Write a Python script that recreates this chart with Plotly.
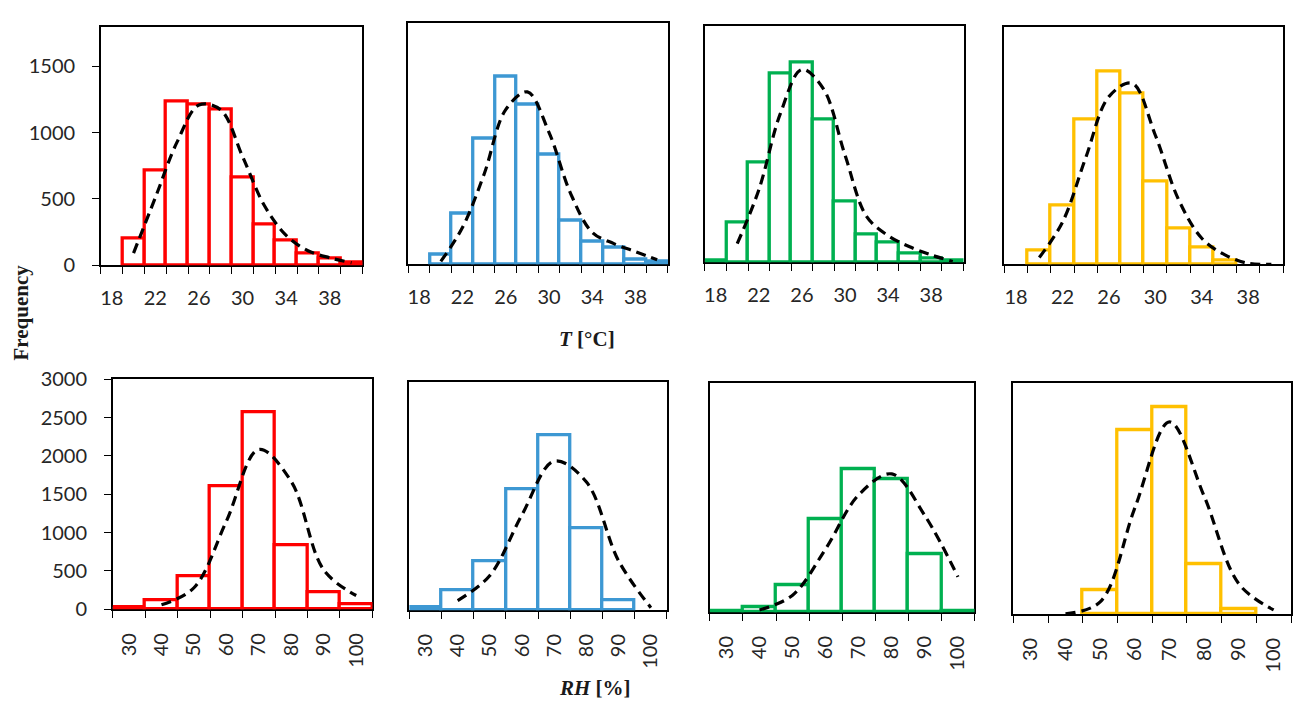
import plotly.graph_objects as go

W, H = 1293, 715

# ---------------- data ----------------
T_BINS = [18, 20, 22, 24, 26, 28, 30, 32, 34, 36, 38, 40]
T_TICK_LABELS = ["18", "22", "26", "30", "34", "38"]
RH_BINS = [30, 40, 50, 60, 70, 80, 90, 100]
RH_TICK_LABELS = ["30", "40", "50", "60", "70", "80", "90", "100"]

T_freq_red = [None, 200, 711, 1233, 1213, 1177, 663, 306, 184, 92, 51, 24]
T_fit_red = [None, 92, 510, 930, 1208, 1171, 820, 450, 225, 109, 56, 19]

T_freq_blue = [None, 70, 377, 935, 1400, 1190, 815, 322, 171, 123, 34, 22]
T_fit_blue = [None, 22, 274, 671, 1152, 1284, 983, 527, 238, 154, 94, 34]

T_freq_green = [15, 306, 762, 1436, 1515, 1086, 461, 208, 150, 69, 32, 15]
T_fit_green = [None, 142, 550, 1130, 1466, 1319, 816, 350, 203, 118, 56, 7]

T_freq_yellow = [None, 107, 448, 1098, 1459, 1293, 623, 270, 124, 27, None, None]
T_fit_yellow = [None, 51, 319, 806, 1269, 1371, 977, 490, 197, 71, 7, 0]

RH_freq_red = [30, 113, 428, 1602, 2567, 839, 218, 71]
RH_fit_red = [None, 59, 281, 1150, 2085, 1665, 512, 180]

RH_freq_blue = [35, 258, 640, 1593, 2301, 1081, 131, None]
RH_fit_blue = [None, 127, 458, 1258, 1962, 1686, 648, 34]

RH_freq_green = [10, 63, 358, 1222, 1875, 1748, 758, 10]
RH_fit_green = [None, 29, 223, 830, 1537, 1811, 1264, 463]

RH_freq_yellow = [None, None, 307, 2391, 2694, 652, 63, None]
RH_fit_yellow = [None, 5, 160, 1380, 2497, 1528, 391, 55]

COLORS = ["#FF0000", "#3D98D3", "#00B050", "#FFC000"]

# ---------------- layout geometry (pixels: x0, x1, ytop, ybottom) ----------------
PANELS = [
    (100, 362, 14, 261),
    (408, 668, 10, 260),
    (705, 964, 13, 258),
    (1005, 1284, 14, 260),
    (112, 372, 379, 617),
    (409, 667, 382, 618),
    (710, 975, 383, 620),
    (1014, 1292, 383, 622),
]

series = [
    (T_freq_red, T_fit_red), (T_freq_blue, T_fit_blue),
    (T_freq_green, T_fit_green), (T_freq_yellow, T_fit_yellow),
    (RH_freq_red, RH_fit_red), (RH_freq_blue, RH_fit_blue),
    (RH_freq_green, RH_fit_green), (RH_freq_yellow, RH_fit_yellow),
]

TICK_FONT = dict(family="Lato, Open Sans, sans-serif", size=20, color="#262626")
TITLE_FONT = dict(family="Liberation Serif, serif", size=21, color="#1a1a1a")

fig = go.Figure()
layout = dict(
    width=W, height=H,
    margin=dict(l=0, r=0, t=0, b=0),
    paper_bgcolor="white", plot_bgcolor="white",
    showlegend=False,
    bargap=0,
)

for i, ((freq, fit), (x0, x1, yt, yb)) in enumerate(zip(series, PANELS)):
    k = "" if i == 0 else str(i + 1)
    top_row = i < 4
    bins = T_BINS if top_row else RH_BINS
    n = len(bins)
    xs = list(range(n))
    color = COLORS[i % 4]

    fig.add_trace(go.Bar(
        x=xs, y=freq, width=1,
        marker=dict(color="white", line=dict(color=color, width=3.3)),
        xaxis="x" + k, yaxis="y" + k, hoverinfo="x+y",
    ))
    fig.add_trace(go.Scatter(
        x=xs, y=fit, mode="lines",
        line=dict(color="black", width=3.2, dash="10px,6px", shape="spline", smoothing=1),
        xaxis="x" + k, yaxis="y" + k,
    ))

    if top_row:
        tickvals = [j for j in range(n) if str(bins[j]) in T_TICK_LABELS]
        ticktext = [str(bins[j]) for j in tickvals]
        tickangle = 0
        ymax = 1800
        yticks = [0, 500, 1000, 1500]
    else:
        tickvals = xs
        ticktext = RH_TICK_LABELS
        tickangle = -90
        ymax = 3000
        yticks = [0, 500, 1000, 1500, 2000, 2500, 3000]

    layout["xaxis" + k] = dict(
        domain=[x0 / W, x1 / W],
        anchor="y" + k,
        range=[-0.5, n - 0.5],
        showline=True, mirror=True, linecolor="black", linewidth=1.5,
        showgrid=False, zeroline=False,
        tickmode="array", tickvals=tickvals, ticktext=ticktext,
        ticks="outside", ticklen=7, tickcolor="rgba(0,0,0,0)",
        ticklabelstandoff=7 if top_row else 7,
        tickangle=tickangle,
        tickfont=TICK_FONT,
        minor=dict(tickmode="array", tickvals=[j - 0.5 for j in range(n + 1)],
                   ticks="outside", ticklen=7, tickcolor="black", tickwidth=1),
        layer="below traces",
        fixedrange=True,
    )
    show_y = i in (0, 4)
    layout["yaxis" + k] = dict(
        domain=[1 - yb / H, 1 - yt / H],
        anchor="x" + k,
        range=[0, ymax],
        showline=True, mirror=True, linecolor="black", linewidth=1.5,
        showgrid=False, zeroline=False,
        tickmode="array", tickvals=yticks,
        showticklabels=show_y,
        ticks="outside" if show_y else "",
        ticklen=7, tickcolor="black",
        ticklabelstandoff=13,
        tickfont=TICK_FONT,
        layer="below traces",
        fixedrange=True,
    )

layout["annotations"] = [
    dict(text="<b>Frequency</b>", x=20 / W, y=1 - 310 / H, xref="paper", yref="paper",
         textangle=-90, showarrow=False, font=TITLE_FONT, xanchor="center", yanchor="middle"),
    dict(text="<b><i>T</i> [°C]</b>", x=587 / W, y=1 - 337 / H, xref="paper", yref="paper",
         showarrow=False, font=TITLE_FONT, xanchor="center", yanchor="middle"),
    dict(text="<b><i>RH</i> [%]</b>", x=595 / W, y=1 - 698 / H, xref="paper", yref="paper",
         showarrow=False, font=TITLE_FONT, xanchor="center", yanchor="middle"),
]

fig.update_layout(**layout)
fig.write_html("out.html")
